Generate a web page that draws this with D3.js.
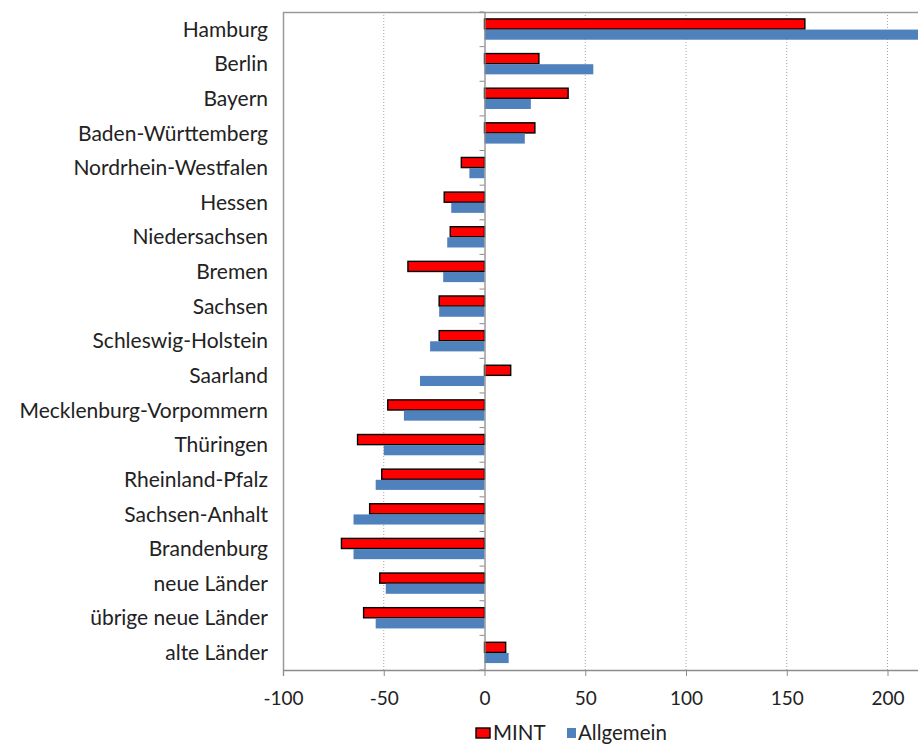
<!DOCTYPE html>
<html><head><meta charset="utf-8">
<script src="https://cdn.jsdelivr.net/npm/d3@7"></script>
<style>body{margin:0;background:#fff;overflow:hidden}svg{display:block}text{font-family:Lato,"Liberation Sans",sans-serif;fill:#222}</style>
</head><body><svg id="c" width="918" height="746"></svg>
<script>
const categories = ["Hamburg","Berlin","Bayern","Baden-Württemberg","Nordrhein-Westfalen","Hessen","Niedersachsen","Bremen","Sachsen","Schleswig-Holstein","Saarland","Mecklenburg-Vorpommern","Thüringen","Rheinland-Pfalz","Sachsen-Anhalt","Brandenburg","neue Länder","übrige neue Länder","alte Länder"];
const mint = [159, 27, 41.5, 25, -11.5, -20, -17, -38, -22.5, -22.5, 13, -48, -63, -51, -57, -71, -52, -60, 10.5];
const allgemein = [220, 54, 23, 20, -7.5, -16.5, -18.5, -20.5, -22.5, -27, -32, -40, -50, -54, -65, -65, -49, -54, 12];
const xTicks = [-100, -50, 0, 50, 100, 150, 200];
const gridTicks = [-50, 50, 100, 150, 200, 250];
const seriesNames = ["MINT", "Allgemein"];
const colors = ["#ff0000", "#4f81bd"];

(function () {
const svg = d3.select("#c");
const L = 283, T = 12, B = 670;
const x = d3.scaleLinear().domain([-100, 250]).range([L, L + 350 * 2.015]);
const y = d3.scaleBand().domain(categories).range([T, B]);
const inner = d3.scaleBand().domain(seriesNames).range([y.bandwidth()*0.2, y.bandwidth()*0.8]).paddingInner(0.05);

// gridlines
svg.append("g").selectAll("line").data(gridTicks).join("line")
  .attr("x1", d => x(d)).attr("x2", d => x(d)).attr("y1", T).attr("y2", B)
  .attr("stroke", "#a6a6a6").attr("stroke-width", 1).attr("stroke-dasharray", "1,2");

// plot border
svg.append("line").attr("x1", L).attr("x2", 918).attr("y1", T + 0.5).attr("y2", T + 0.5).attr("stroke", "#9a9a9a").attr("stroke-width", 1.5);
svg.append("line").attr("x1", L + 0.5).attr("x2", L + 0.5).attr("y1", T).attr("y2", B).attr("stroke", "#9a9a9a").attr("stroke-width", 1.5);

// bars
const g = svg.append("g");
categories.forEach((c, i) => {
  const vals = [mint[i], allgemein[i]];
  vals.forEach((v, k) => {
    const r = g.append("rect")
      .attr("x", x(Math.min(0, v)))
      .attr("width", Math.abs(x(v) - x(0)))
      .attr("y", y(c) + inner(seriesNames[k]))
      .attr("height", inner.bandwidth())
      .attr("fill", colors[k]);
    if (k === 0) r.attr("stroke", "#000").attr("stroke-width", 1.4);
  });
});

// x axis
const xa = svg.append("g").attr("transform", `translate(0,${B})`)
  .call(d3.axisBottom(x).tickValues(xTicks).tickSize(6).tickPadding(16).tickFormat(d => String(d)));
xa.select(".domain").attr("stroke", "#8c8c8c").attr("stroke-width", 1.3);
xa.selectAll(".tick line").attr("stroke", "#8c8c8c");
xa.selectAll(".tick text").attr("font-size", 19).attr("fill", "#222").style("font-family", "Lato, sans-serif");

// y axis at zero
const ya = svg.append("g").attr("transform", `translate(${x(0)},0)`)
  .call(d3.axisLeft(y).tickSize(0).tickFormat(""));
ya.select(".domain").attr("stroke", "#8c8c8c").attr("stroke-width", 1.3);
svg.append("g").selectAll("line").data(d3.range(categories.length + 1)).join("line")
  .attr("x1", x(0) - 5).attr("x2", x(0)).attr("y1", i => T + i * y.step()).attr("y2", i => T + i * y.step())
  .attr("stroke", "#8c8c8c");

// category labels
svg.append("g").selectAll("text").data(categories).join("text")
  .attr("x", 268).attr("y", d => y(d) + y.bandwidth() / 2).attr("dy", "0.35em")
  .attr("text-anchor", "end").attr("font-size", 21).text(d => d);

// legend
const lg = svg.append("g");
lg.append("rect").attr("x", 476).attr("y", 728).attr("width", 14).attr("height", 10).attr("fill", colors[0]).attr("stroke", "#000").attr("stroke-width", 1.4);
lg.append("text").attr("x", 493).attr("y", 740).attr("font-size", 20.5).text(seriesNames[0]);
lg.append("rect").attr("x", 567).attr("y", 728).attr("width", 9).attr("height", 10).attr("fill", colors[1]);
lg.append("text").attr("x", 578).attr("y", 740).attr("font-size", 20.5).text(seriesNames[1]);
})();
</script></body></html>
